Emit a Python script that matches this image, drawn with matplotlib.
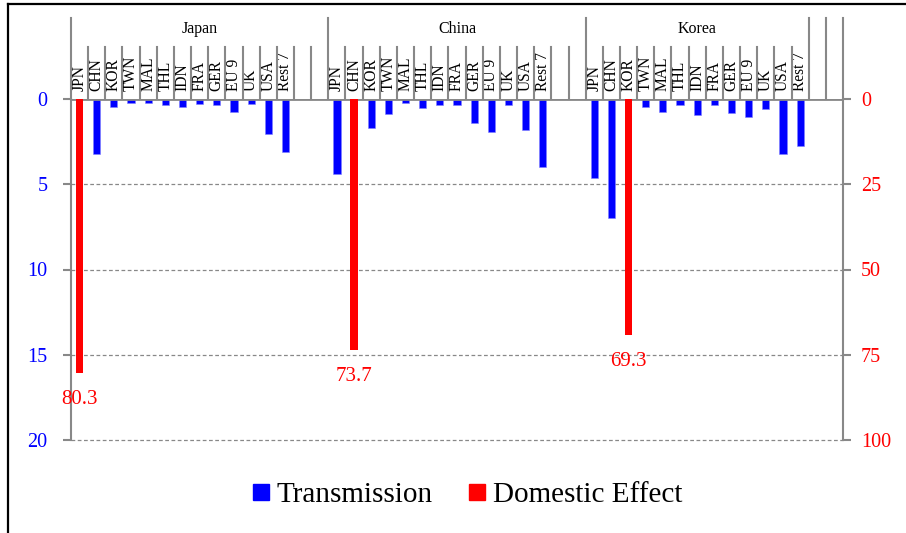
import matplotlib
matplotlib.use("Agg")
import matplotlib.pyplot as plt
import numpy as np
from matplotlib.lines import Line2D

plt.rcParams['font.family'] = ['Liberation Serif', 'DejaVu Serif']

countries = ["JPN", "CHN", "KOR", "TWN", "MAL", "THL", "IDN", "FRA", "GER",
             "EU 9", "UK", "USA", "Rest 7"]
groups = ["Japan", "China", "Korea"]

# transmission (left axis), domestic country has no blue bar
japan_trans = [0, 3.24, 0.45, 0.21, 0.25, 0.35, 0.49, 0.31, 0.33, 0.76, 0.29, 2.07, 3.13]
china_trans = [4.42, 0, 1.72, 0.86, 0.21, 0.55, 0.33, 0.35, 1.41, 1.92, 0.33, 1.84, 3.99]
korea_trans = [4.65, 6.98, 0, 0.49, 0.76, 0.35, 0.94, 0.33, 0.82, 1.08, 0.57, 3.23, 2.78]

# domestic effect (right axis)
domestic = [80.3, 73.7, 69.3]
domestic_idx = [0, 1, 2]  # JPN, CHN, KOR

group_start = [0, 15, 30]
n_slots = 45

grey = "#888888"

fig = plt.figure(figsize=(9.06, 5.33), dpi=100)
W, H = 906, 533
x0, x1, ytop, ybot = 71, 843, 99, 440
ax = fig.add_axes([x0 / W, 1 - ybot / H, (x1 - x0) / W, (ybot - ytop) / H])
ax2 = ax.twinx()

bw = 0.42
for g, trans in enumerate([japan_trans, china_trans, korea_trans]):
    xs = group_start[g] + np.arange(len(countries)) + 0.5
    ax.bar(xs, trans, width=bw, color="#0000FF", edgecolor="#8080ff", linewidth=0.4, zorder=3)
    xd = group_start[g] + domestic_idx[g] + 0.5
    ax2.bar([xd], [domestic[g]], width=bw, color="#FF0000", zorder=3)
    ax2.annotate(f"{domestic[g]}", (xd, domestic[g]), xytext=(0, -19),
                 textcoords="offset points", ha="center", va="center",
                 color="#FF0000", fontsize=15)

ax.set_xlim(0, n_slots)
ax.set_ylim(20, 0)
ax2.set_ylim(100, 0)
ax.set_yticks([0, 5, 10, 15, 20])
ax2.set_yticks([0, 25, 50, 75, 100])
ax.set_xticks([])

for a in (ax, ax2):
    for s in ("bottom", "top"):
        a.spines[s].set_visible(False)
    a.spines["left"].set_color(grey)
    a.spines["right"].set_color(grey)
    a.spines["left"].set_linewidth(1.5)
    a.spines["right"].set_linewidth(1.5)
ax.spines["right"].set_visible(False)
ax2.spines["left"].set_visible(False)
ax.tick_params(axis="y", colors=grey, labelcolor="#0000FF", labelsize=14.5,
               length=6, width=1.5, pad=11)
ax2.tick_params(axis="y", colors=grey, labelcolor="#FF0000", labelsize=14.5,
                length=6, width=1.5, pad=7)
ax.patch.set_visible(False)

# gridlines
for v in [5, 10, 15, 20]:
    ax.plot([0, n_slots], [v, v], color=grey, linestyle=(0, (3, 2)), linewidth=0.9,
            zorder=1, clip_on=False)
ax.axhline(0, color=grey, linewidth=2, zorder=4)

# category axis (two levels) above the plot
trans = ax.get_xaxis_transform()
h = ybot - ytop
row1 = 1 + (ytop - 47) / h
row2 = 1 + (ytop - 18) / h
for k in range(n_slots + 1):
    tall = k in (0, 15, 30, 43, 44, 45)
    ax.plot([k, k], [1, row2 if tall else row1], color=grey, lw=1.5,
            transform=trans, clip_on=False, zorder=4)
for g in range(3):
    for i, c in enumerate(countries):
        ax.text(group_start[g] + i + 0.5, 1 + 8 / h, c, rotation=90, ha="center",
                va="bottom", fontsize=11.2, transform=trans)
    ax.text(group_start[g] + 7.5 if g < 2 else 36.5, 1 + (ytop - 29) / h, groups[g],
            ha="center", va="center", fontsize=11.5, transform=trans)

# legend
handles = [Line2D([], [], marker="s", linestyle="none", color="#0000FF", markersize=11),
           Line2D([], [], marker="s", linestyle="none", color="#FF0000", markersize=11)]
fig.legend(handles, ["Transmission", "Domestic Effect"], loc="center",
           bbox_to_anchor=(467 / W, 1 - 495 / H), ncol=2, frameon=False,
           fontsize=21, handlelength=0.6, handletextpad=0.25, columnspacing=1.2)

# outer frame (top and left edges visible)
fig.add_artist(Line2D([8 / W, 8 / W], [0, 1 - 4 / H], color="black", lw=1.6))
fig.add_artist(Line2D([8 / W, 1], [1 - 4 / H, 1 - 4 / H], color="black", lw=1.6))

fig.savefig("out.png", dpi=100)
